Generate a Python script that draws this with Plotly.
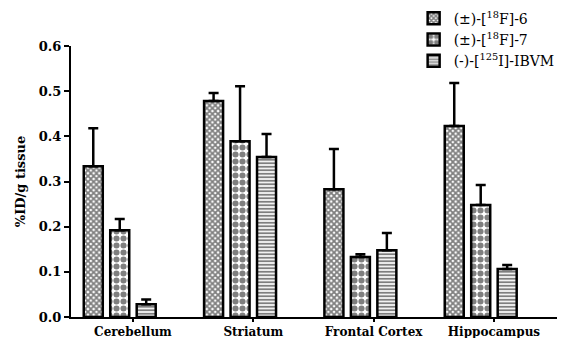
import plotly.graph_objects as go

# Regional brain uptake (%ID/g tissue), mean with upward SD
regions = ["Cerebellum", "Striatum", "Frontal Cortex", "Hippocampus"]
series_names = ["(±)-[<sup>18</sup>F]-6", "(±)-[<sup>18</sup>F]-7", "(-)-[<sup>125</sup>I]-IBVM"]

f6_mean = [0.334, 0.478, 0.283, 0.423]
f6_sd = [0.084, 0.018, 0.089, 0.095]
f7_mean = [0.192, 0.389, 0.133, 0.248]
f7_sd = [0.025, 0.122, 0.006, 0.044]
ibvm_mean = [0.028, 0.354, 0.148, 0.106]
ibvm_sd = [0.011, 0.051, 0.038, 0.009]

means = [f6_mean, f7_mean, ibvm_mean]
sds = [f6_sd, f7_sd, ibvm_sd]

y_ticks = [0.0, 0.1, 0.2, 0.3, 0.4, 0.5, 0.6]

SERIF = "DejaVu Serif"
bar_w = 0.158
pitch = 0.22
offsets = [-1.5 * pitch - bar_w / 2, -0.5 * pitch - bar_w / 2, 0.5 * pitch - bar_w / 2]
patterns = [
    dict(shape="x", size=4, solidity=0.7, fgcolor="black", bgcolor="white"),
    dict(shape=".", size=7, solidity=0.6, fgcolor="black", bgcolor="white"),
    dict(shape="-", size=3.5, solidity=0.55, fgcolor="black", bgcolor="white"),
]

x_pos = list(range(len(regions)))

fig = go.Figure()
for name, m, s, off, pat in zip(series_names, means, sds, offsets, patterns):
    fig.add_trace(go.Bar(
        x=x_pos, y=m, name=name,
        width=bar_w, offset=off,
        marker=dict(color="white", line=dict(color="black", width=2.5), pattern=pat),
        error_y=dict(type="data", array=s, arrayminus=[0] * len(s), symmetric=False,
                     color="black", thickness=2.5, width=5),
    ))

fig.update_layout(
    width=563, height=338,
    margin=dict(l=71, r=6, t=46, b=21, autoexpand=False),
    paper_bgcolor="white", plot_bgcolor="white",
    barmode="overlay",
    showlegend=True,
    legend=dict(x=0.705, y=1.16, xanchor="left", yanchor="top",
                font=dict(family=SERIF, size=14, color="black"),
                bgcolor="rgba(0,0,0,0)", tracegroupgap=0, itemwidth=30),
)

fig.update_xaxes(
    tickmode="array", tickvals=x_pos, ticktext=regions,
    range=[-0.515, 3.524],
    showline=True, linecolor="black", linewidth=2,
    ticks="outside", ticklen=3, tickwidth=1.5, tickcolor="black",
    tickfont=dict(family=SERIF, size=12, color="black", weight="bold"),
    showgrid=False, zeroline=False,
)
fig.update_yaxes(
    range=[0, 0.6], tickvals=y_ticks, ticktext=[f"{v:.1f}" for v in y_ticks],
    showline=True, linecolor="black", linewidth=2,
    ticks="outside", ticklen=5, tickwidth=1.5, tickcolor="black",
    tickfont=dict(family=SERIF, size=13, color="black", weight="bold"),
    title=dict(text="%ID/g tissue", font=dict(family=SERIF, size=13, color="black", weight="bold"), standoff=10),
    showgrid=False, zeroline=False,
)

fig.write_html("out.html")
